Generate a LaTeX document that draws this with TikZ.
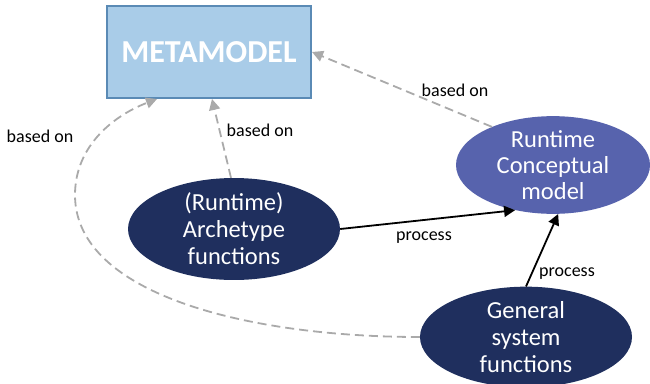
\documentclass[tikz,border=0pt]{standalone}
\usepackage{fontspec}
\setmainfont{Carlito}
\usetikzlibrary{shapes.geometric,arrows.meta}
\definecolor{metafill}{HTML}{A9CCE8}
\definecolor{metaedge}{HTML}{5A8AB5}
\definecolor{navy}{HTML}{1F2F5E}
\definecolor{violet}{HTML}{5763AD}
\definecolor{dashgray}{HTML}{AAAAAA}
\tikzset{
  metabox/.style={draw=metaedge, line width=1.2pt, fill=metafill, minimum width=204pt, minimum height=92pt,
    inner sep=0pt, text=white, font=\fontsize{32}{36}\selectfont\bfseries},
  darkellipse/.style={ellipse, fill=navy, inner sep=0pt, text=white, align=center,
    font=\fontsize{24.5}{27}\selectfont},
  lightellipse/.style={ellipse, fill=violet, inner sep=0pt, text=white, align=center,
    font=\fontsize{24.5}{26}\selectfont},
  basedon/.style={draw=dashgray, line width=1.8pt, dash pattern=on 9pt off 5pt,
    -{Triangle[length=11pt,width=11pt]}},
  processarrow/.style={draw=black, line width=1.8pt, -{Triangle[length=11pt,width=11pt]}},
  lbl/.style={font=\fontsize{18}{20}\selectfont, text=black, inner sep=0pt}
}
\begin{document}
\begin{tikzpicture}[x=1pt,y=-1pt]
  \useasboundingbox (0,0) rectangle (650,383);
  \node[metabox] (meta) at (209,52) {METAMODEL};
  \node[darkellipse, minimum width=212pt, minimum height=88pt] (arch) at (234,229)
    {(Runtime)\\Archetype\\functions};
  \node[lightellipse, minimum width=194pt, minimum height=96pt] (rcm) at (553,165)
    {Runtime\\Conceptual\\model};
  \node[darkellipse, minimum width=212pt, minimum height=94pt] (gen) at (526,337)
    {General\\system\\functions};

  \coordinate (metaright) at (312,52);
  \coordinate (metabot) at (212,99);
  \coordinate (metabl) at (157,99);

  \draw[basedon] (rcm.148) -- (metaright);
  \draw[basedon] (arch.north) ++(-3,0) -- (metabot);
  \draw[basedon] (gen.west) .. controls (250,337) and (75,295) .. (75,195)
    .. controls (75,145) and (115,115) .. (metabl);

  \draw[processarrow] (arch.east) -- (rcm.-130);
  \draw[processarrow] (gen.north) -- (rcm.-84);

  \node[lbl] (l1) at (455,90) {based on};
  \node[lbl] (l2) at (260,130) {based on};
  \node[lbl] (l3) at (40,136) {based on};
  \node[lbl] (l4) at (424,238) {process};
  \node[lbl] (l5) at (567,274) {process};
\end{tikzpicture}
\end{document}
